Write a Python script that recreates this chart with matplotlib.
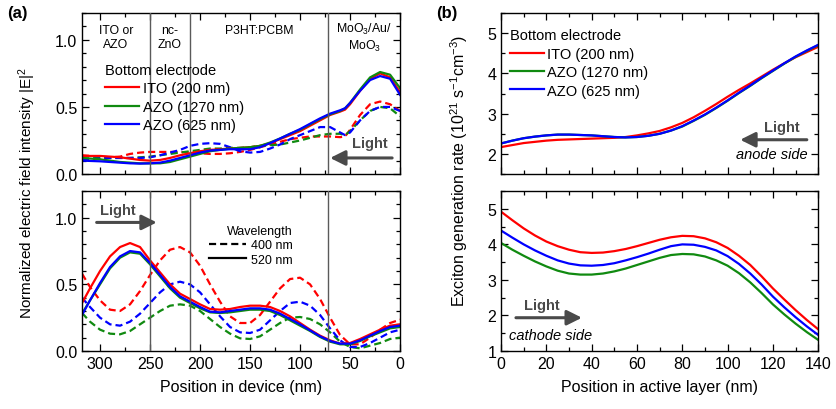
import numpy as np
import matplotlib.pyplot as plt
from matplotlib.lines import Line2D
from matplotlib.ticker import MultipleLocator, FormatStrFormatter

plt.rcParams['font.family'] = ['Liberation Sans', 'DejaVu Sans']
plt.rcParams['mathtext.fontset'] = 'custom'
plt.rcParams['mathtext.rm'] = 'Liberation Sans'
plt.rcParams['mathtext.it'] = 'Liberation Sans:italic'

# ---- data (a) top: light from anode side ----
x_top = [318, 300, 290, 280, 270, 260, 250, 240, 230, 220, 210, 200, 190, 180, 170, 160,
         150, 140, 130, 120, 110, 100, 90, 80, 70, 60, 55, 50, 40, 30, 20, 10, 0]
top_ito_520 = [0.135, 0.135, 0.13, 0.125, 0.115, 0.105, 0.10, 0.105, 0.12, 0.14, 0.155, 0.17, 0.18, 0.185, 0.19, 0.195,
               0.20, 0.21, 0.23, 0.26, 0.29, 0.32, 0.36, 0.40, 0.44, 0.465, 0.48, 0.52, 0.62, 0.71, 0.75, 0.72, 0.61]
top_azo1_520 = [0.12, 0.11, 0.10, 0.09, 0.085, 0.08, 0.08, 0.08, 0.09, 0.11, 0.13, 0.15, 0.17, 0.18, 0.19, 0.195,
                0.20, 0.21, 0.235, 0.265, 0.30, 0.33, 0.37, 0.41, 0.445, 0.47, 0.49, 0.53, 0.63, 0.72, 0.76, 0.74, 0.64]
top_azo2_520 = [0.10, 0.095, 0.09, 0.085, 0.08, 0.078, 0.08, 0.085, 0.10, 0.12, 0.14, 0.16, 0.175, 0.18, 0.185, 0.185,
                0.185, 0.20, 0.23, 0.265, 0.30, 0.335, 0.375, 0.415, 0.45, 0.475, 0.49, 0.53, 0.62, 0.70, 0.73, 0.71, 0.59]
top_ito_400 = [0.14, 0.13, 0.125, 0.13, 0.15, 0.16, 0.165, 0.165, 0.165, 0.165, 0.16, 0.155, 0.15, 0.15, 0.155, 0.165,
               0.18, 0.20, 0.22, 0.24, 0.26, 0.27, 0.28, 0.28, 0.28, 0.275, 0.28, 0.33, 0.44, 0.52, 0.54, 0.52, 0.47]
top_azo1_400 = [0.115, 0.12, 0.12, 0.12, 0.12, 0.125, 0.13, 0.14, 0.15, 0.16, 0.17, 0.18, 0.19, 0.19, 0.195, 0.195,
                0.20, 0.21, 0.215, 0.22, 0.235, 0.25, 0.27, 0.29, 0.30, 0.30, 0.29, 0.32, 0.40, 0.47, 0.50, 0.49, 0.43]
top_azo2_400 = [0.11, 0.115, 0.12, 0.12, 0.12, 0.12, 0.125, 0.14, 0.16, 0.18, 0.21, 0.225, 0.23, 0.225, 0.20, 0.17,
                0.16, 0.165, 0.19, 0.22, 0.26, 0.29, 0.32, 0.35, 0.35, 0.31, 0.29, 0.31, 0.40, 0.47, 0.50, 0.50, 0.47]

# ---- data (a) bottom: light from cathode side ----
x_bot = [318, 310, 300, 290, 280, 270, 260, 250, 240, 230, 220, 210, 200, 190, 180, 170, 160,
         150, 140, 130, 120, 110, 100, 90, 80, 70, 60, 50, 40, 30, 20, 10, 0]
bot_ito_400 = [0.58, 0.48, 0.38, 0.31, 0.30, 0.35, 0.45, 0.57, 0.68, 0.76, 0.78, 0.74, 0.64, 0.50, 0.37, 0.26, 0.21,
               0.21, 0.27, 0.37, 0.47, 0.54, 0.55, 0.50, 0.39, 0.25, 0.12, 0.05, 0.05, 0.10, 0.16, 0.21, 0.235]
bot_azo2_400 = [0.40, 0.33, 0.25, 0.20, 0.19, 0.22, 0.28, 0.36, 0.44, 0.50, 0.52, 0.50, 0.44, 0.35, 0.26, 0.18, 0.14,
                0.135, 0.16, 0.23, 0.30, 0.36, 0.37, 0.34, 0.27, 0.17, 0.08, 0.03, 0.03, 0.06, 0.10, 0.14, 0.16]
bot_azo1_400 = [0.285, 0.22, 0.16, 0.13, 0.125, 0.15, 0.20, 0.25, 0.30, 0.34, 0.35, 0.34, 0.30, 0.24, 0.18, 0.13, 0.095,
                0.09, 0.11, 0.16, 0.21, 0.25, 0.255, 0.24, 0.20, 0.14, 0.07, 0.03, 0.02, 0.04, 0.06, 0.09, 0.10]
bot_ito_520 = [0.36, 0.47, 0.60, 0.71, 0.78, 0.81, 0.78, 0.68, 0.59, 0.50, 0.43, 0.39, 0.35, 0.315, 0.31, 0.315, 0.33,
               0.34, 0.34, 0.33, 0.30, 0.26, 0.21, 0.16, 0.115, 0.08, 0.055, 0.06, 0.09, 0.125, 0.16, 0.19, 0.20]
bot_azo2_520 = [0.27, 0.38, 0.51, 0.63, 0.71, 0.75, 0.74, 0.66, 0.57, 0.48, 0.41, 0.37, 0.33, 0.295, 0.29, 0.30, 0.31,
                0.32, 0.32, 0.31, 0.28, 0.24, 0.20, 0.155, 0.11, 0.075, 0.055, 0.055, 0.08, 0.115, 0.15, 0.18, 0.19]
bot_azo1_520 = [0.28, 0.38, 0.50, 0.62, 0.70, 0.74, 0.73, 0.65, 0.56, 0.47, 0.40, 0.36, 0.32, 0.29, 0.285, 0.29, 0.30,
                0.31, 0.31, 0.30, 0.27, 0.23, 0.19, 0.15, 0.105, 0.07, 0.05, 0.05, 0.075, 0.11, 0.14, 0.17, 0.18]

# layer boundaries (nm)
boundaries = [250, 210, 72]

# ---- data (b): exciton generation rate ----
x_act = [0, 5, 10, 15, 20, 25, 30, 35, 40, 45, 50, 55, 60, 65, 70, 75, 80,
         85, 90, 95, 100, 105, 110, 115, 120, 125, 130, 135, 140]
gen_anode_ito = [2.17, 2.22, 2.27, 2.30, 2.33, 2.35, 2.36, 2.37, 2.38, 2.39, 2.40, 2.42, 2.46, 2.51, 2.57, 2.66, 2.77,
                 2.91, 3.07, 3.24, 3.42, 3.59, 3.75, 3.92, 4.09, 4.25, 4.40, 4.53, 4.66]
gen_anode_azo1 = [2.26, 2.33, 2.39, 2.43, 2.46, 2.48, 2.48, 2.47, 2.46, 2.44, 2.42, 2.41, 2.42, 2.45, 2.50, 2.58, 2.68,
                  2.82, 2.97, 3.14, 3.32, 3.51, 3.69, 3.88, 4.06, 4.24, 4.41, 4.56, 4.70]
gen_anode_azo2 = [2.26, 2.33, 2.39, 2.43, 2.46, 2.48, 2.48, 2.47, 2.46, 2.44, 2.42, 2.41, 2.42, 2.45, 2.50, 2.58, 2.69,
                  2.83, 2.98, 3.15, 3.33, 3.52, 3.70, 3.89, 4.07, 4.25, 4.42, 4.57, 4.71]
gen_cath_ito = [4.92, 4.68, 4.45, 4.25, 4.08, 3.95, 3.85, 3.78, 3.76, 3.77, 3.81, 3.87, 3.95, 4.04, 4.13, 4.20, 4.24,
                4.23, 4.17, 4.06, 3.90, 3.68, 3.42, 3.10, 2.76, 2.45, 2.15, 1.87, 1.61]
gen_cath_azo1 = [4.04, 3.85, 3.68, 3.52, 3.38, 3.26, 3.18, 3.15, 3.15, 3.18, 3.24, 3.32, 3.42, 3.52, 3.62, 3.70, 3.73,
                 3.72, 3.66, 3.55, 3.40, 3.19, 2.93, 2.63, 2.31, 2.03, 1.77, 1.53, 1.31]
gen_cath_azo2 = [4.39, 4.19, 4.00, 3.83, 3.68, 3.55, 3.46, 3.41, 3.40, 3.42, 3.47, 3.55, 3.64, 3.74, 3.85, 3.95, 4.00,
                 3.99, 3.93, 3.83, 3.67, 3.45, 3.18, 2.87, 2.53, 2.23, 1.95, 1.69, 1.45]

labels = ['ITO (200 nm)', 'AZO (1270 nm)', 'AZO (625 nm)']
colors = ['#ff0000', '#108a10', '#0000ff']
dash = (0, (3.2, 1.8))
lw = 1.6
arrow_col = '#4a4a4a'

fig = plt.figure(figsize=(8.37, 4.10), dpi=100)
ax1 = fig.add_axes([0.098, 0.573, 0.380, 0.393])
ax2 = fig.add_axes([0.098, 0.1415, 0.380, 0.390])
ax3 = fig.add_axes([0.5986, 0.573, 0.379, 0.393])
ax4 = fig.add_axes([0.5986, 0.1415, 0.379, 0.390])

# (a) top
for y, c in zip([top_ito_400, top_azo1_400, top_azo2_400], colors):
    ax1.plot(x_top, y, color=c, lw=lw, ls=dash)
for y, c, l in zip([top_ito_520, top_azo1_520, top_azo2_520], colors, labels):
    ax1.plot(x_top, y, color=c, lw=lw, label=l)
# (a) bottom
for y, c in zip([bot_ito_400, bot_azo1_400, bot_azo2_400], colors):
    ax2.plot(x_bot, y, color=c, lw=lw, ls=dash)
for y, c in zip([bot_ito_520, bot_azo1_520, bot_azo2_520], colors):
    ax2.plot(x_bot, y, color=c, lw=lw)

for ax in (ax1, ax2):
    for b in boundaries:
        ax.axvline(b, color='#5a5a5a', lw=1.0, zorder=3)
    ax.set_xlim(318, 0)
    ax.set_ylim(0, 1.2)
    ax.xaxis.set_major_locator(MultipleLocator(50))
    ax.xaxis.set_minor_locator(MultipleLocator(25))
    ax.yaxis.set_major_locator(MultipleLocator(0.5))
    ax.yaxis.set_minor_locator(MultipleLocator(0.1))
    ax.yaxis.set_major_formatter(FormatStrFormatter('%.1f'))

# (b)
for y, c, l in zip([gen_anode_ito, gen_anode_azo1, gen_anode_azo2], colors, labels):
    ax3.plot(x_act, y, color=c, lw=lw, label=l)
for y, c in zip([gen_cath_ito, gen_cath_azo1, gen_cath_azo2], colors):
    ax4.plot(x_act, y, color=c, lw=lw)
ax3.set_ylim(1.5, 5.5)
ax4.set_ylim(1, 5.5)
for ax in (ax3, ax4):
    ax.set_xlim(0, 140)
    ax.xaxis.set_major_locator(MultipleLocator(20))
    ax.xaxis.set_minor_locator(MultipleLocator(10))
    ax.yaxis.set_major_locator(MultipleLocator(1))
    ax.yaxis.set_minor_locator(MultipleLocator(0.5))

for ax in (ax1, ax2, ax3, ax4):
    ax.tick_params(which='both', direction='in', top=True, right=True, labelsize=11.5, width=0.9)
    ax.tick_params(which='major', length=5)
    ax.tick_params(which='minor', length=3)
    for s in ax.spines.values():
        s.set_linewidth(1.0)
for ax in (ax1, ax3):
    ax.tick_params(labelbottom=False)

ax2.set_xlabel('Position in device (nm)', fontsize=11.5, labelpad=6)
ax4.set_xlabel('Position in active layer (nm)', fontsize=11.5, labelpad=6)
fig.text(0.033, 0.529, 'Normalized electric field intensity |E|$^2$', rotation=90,
         ha='center', va='center', fontsize=11)
fig.text(0.548, 0.582, 'Exciton generation rate (10$^{21}$ s$^{-1}$cm$^{-3}$)', rotation=90,
         ha='center', va='center', fontsize=11.5)
fig.text(0.0205, 0.966, '(a)', fontsize=12, fontweight='bold', ha='center', va='center')
fig.text(0.534, 0.966, '(b)', fontsize=12, fontweight='bold', ha='center', va='center')

# layer names
tr = ax1.get_xaxis_transform()
ax1.text(284, 0.85, 'ITO or\nAZO', transform=tr, ha='center', va='center', fontsize=8.8, linespacing=1.15)
ax1.text(230, 0.85, 'nc-\nZnO', transform=tr, ha='center', va='center', fontsize=8.8, linespacing=1.15)
ax1.text(141, 0.895, 'P3HT:PCBM', transform=tr, ha='center', va='center', fontsize=8.8)
ax1.text(36, 0.85, 'MoO$_3$/Au/\nMoO$_3$', transform=tr, ha='center', va='center', fontsize=8.8, linespacing=1.15)

# legends
leg1 = ax1.legend(title='Bottom electrode', loc='upper left', bbox_to_anchor=(0.055, 0.725), frameon=False,
                  fontsize=10.5, title_fontsize=10.5, handlelength=2.3, handletextpad=0.25,
                  labelspacing=0.3, borderaxespad=0, alignment='left')
leg3 = ax3.legend(title='Bottom electrode', loc='upper left', bbox_to_anchor=(0.01, 0.94), frameon=False,
                  fontsize=10.5, title_fontsize=10.5, handlelength=2.3, handletextpad=0.25,
                  labelspacing=0.3, borderaxespad=0, alignment='left')
wl_handles = [Line2D([], [], color='black', lw=lw, ls=dash), Line2D([], [], color='black', lw=lw)]
ax2.legend(wl_handles, ['400 nm', '520 nm'], title='Wavelength', loc='upper left',
           bbox_to_anchor=(0.385, 0.82), frameon=False, fontsize=9, title_fontsize=9,
           handlelength=2.9, handletextpad=0.4, labelspacing=0.2, borderaxespad=0, alignment='right')

# light arrows
astyle = dict(arrowstyle='-|>,head_length=0.9,head_width=0.45', color=arrow_col, lw=2.2,
              mutation_scale=10, shrinkA=0, shrinkB=0)
ax1.annotate('', xy=(0.78, 0.10), xytext=(0.975, 0.10), xycoords='axes fraction', arrowprops=astyle)
ax1.text(0.906, 0.19, 'Light', transform=ax1.transAxes, ha='center', va='center',
         fontsize=10.5, fontweight='bold', color=arrow_col)
ax2.annotate('', xy=(0.235, 0.804), xytext=(0.046, 0.804), xycoords='axes fraction', arrowprops=astyle)
ax2.text(0.114, 0.883, 'Light', transform=ax2.transAxes, ha='center', va='center',
         fontsize=10.5, fontweight='bold', color=arrow_col)
ax3.annotate('', xy=(0.754, 0.213), xytext=(0.964, 0.213), xycoords='axes fraction', arrowprops=astyle)
ax3.text(0.886, 0.29, 'Light', transform=ax3.transAxes, ha='center', va='center',
         fontsize=10.5, fontweight='bold', color=arrow_col)
ax3.text(0.854, 0.124, 'anode side', transform=ax3.transAxes, ha='center', va='center',
         fontsize=10.5, style='italic')
ax4.annotate('', xy=(0.255, 0.208), xytext=(0.047, 0.208), xycoords='axes fraction', arrowprops=astyle)
ax4.text(0.128, 0.29, 'Light', transform=ax4.transAxes, ha='center', va='center',
         fontsize=10.5, fontweight='bold', color=arrow_col)
ax4.text(0.155, 0.10, 'cathode side', transform=ax4.transAxes, ha='center', va='center',
         fontsize=10.5, style='italic')

fig.savefig('out.png', dpi=100)
